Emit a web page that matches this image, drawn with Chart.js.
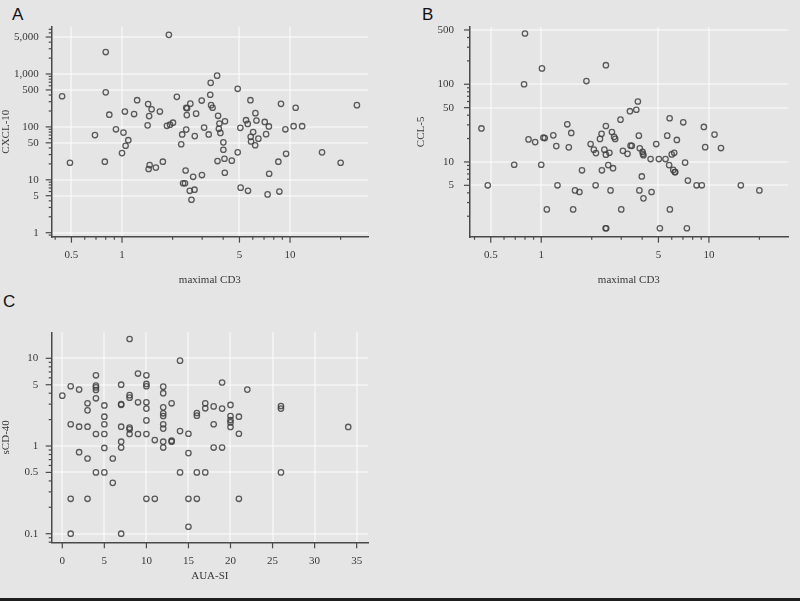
<!DOCTYPE html>
<html><head><meta charset="utf-8">
<script src="https://cdn.jsdelivr.net/npm/chart.js@4.4.1/dist/chart.umd.min.js"></script>
<style>
html,body{margin:0;padding:0;background:#e5e5e5;}
body{width:800px;height:601px;position:relative;overflow:hidden;}
canvas{position:absolute;}
.lbl{position:absolute;font:17px "Liberation Sans",Arial,sans-serif;line-height:17px;color:#111;}
#bottomline{position:absolute;left:0;top:598px;width:800px;height:2.5px;background:#1e1e1e;}
</style></head><body>
<div class="lbl" style="left:12px;top:6px">A</div>
<div class="lbl" style="left:422px;top:6px">B</div>
<div class="lbl" style="left:3px;top:293px">C</div>
<canvas id="cA" width="400" height="300" style="left:0;top:0"></canvas>
<canvas id="cB" width="400" height="300" style="left:400px;top:0"></canvas>
<canvas id="cC" width="400" height="300" style="left:0;top:300px"></canvas>
<div id="bottomline"></div>
<script>
// Panel A: maximal CD3 vs CXCL-10
const cxcl10CD3 = [0.44,0.49,0.69,0.80,0.80,0.79,0.84,0.92,1.02,1.04,1.0,1.05,1.09,1.18,1.23,1.43,1.50,1.45,1.42,1.44,1.46,1.59,1.68,1.75,1.9,1.85,1.93,2.01,2.12,2.28,2.25,2.41,2.43,2.41,2.44,2.55,2.39,2.31,2.37,2.53,2.70,2.59,2.65,2.71,2.76,2.98,2.99,3.08,3.28,3.37,3.35,3.39,3.46,3.68,3.73,3.80,3.77,3.85,4.10,4.01,4.01,4.07,3.70,4.09,4.50,4.88,4.88,5.06,5.08,5.62,5.47,5.60,5.81,5.83,5.86,6.03,6.22,6.31,6.20,6.48,7.07,7.20,7.48,7.51,7.35,8.52,8.64,8.83,9.38,9.47,10.5,10.8,11.8,15.5,20,25];
const cxcl10 = [380,21,70,2600,450,22,170,90,78,195,32,44,56,175,320,270,215,160,107,16,19,17,195,22,5500,105,110,120,370,72,47,89,167,230,225,275,15,8.6,8.6,6.2,6.5,4.2,11.4,67,178,315,12.3,97,72,680,405,258,230,930,162,116,92,77,128,51,37,25,22.6,13.6,23,525,33,96,7.1,6.2,134,114,320,65,53,80,182,132,45,60,124,73,102,13,5.3,22,6.0,273,90,31,103,230,103,33,21,258];

// Panel B: maximal CD3 vs CCL-5
const ccl5CD3 = [0.44,0.48,0.69,0.80,0.79,0.84,0.92,1.0,1.01,1.03,1.05,1.08,1.18,1.23,1.25,1.43,1.46,1.51,1.55,1.59,1.69,1.75,1.86,1.97,2.06,2.11,2.12,2.24,2.29,2.30,2.38,2.42,2.44,2.43,2.43,2.43,2.51,2.55,2.59,2.64,2.68,2.72,2.76,2.97,3.0,3.07,3.27,3.38,3.41,3.47,3.69,3.77,3.82,3.87,3.85,3.98,4.02,4.04,4.07,4.07,4.49,4.55,4.85,5.03,5.10,5.51,5.64,5.83,5.79,5.85,6.0,6.13,6.21,6.26,6.3,6.44,7.03,7.21,7.39,7.49,8.44,9.07,9.33,9.5,10.8,11.8,15.5,20];
const ccl5 = [27,5,9.2,450,100,19.5,18,9.2,160,20.5,20.3,2.45,22,16,5,30.5,15.4,23.6,2.45,4.3,4.1,7.8,110,17,14.4,5,13,19.8,23,7.8,14.4,1.4,1.4,176,29,12.4,9.1,13.1,4.3,24.3,8.3,21,19.8,35,2.45,13.9,12.7,45,16.2,16.1,47,60,21.8,15,4.3,6.5,13.5,12.7,12.2,3.4,10.9,4.1,17,10.9,1.4,10.9,21.8,36.5,9.1,2.45,12.5,7.9,13.1,7.4,7.4,19.2,32.4,9.8,1.4,5.75,5,5,28.2,15.5,22.5,15.1,5,4.3];

// Panel C: AUA-SI vs sCD-40
const auaSI = [0,1,1,1,1,2,2,2,3,3,3,3,3,4,4,4,4,4,4,4,5,5,5,5,5,5,6,6,7,7,7,7,7,7,7,8,8,8,8,8,8,9,9,9,10,10,10,10,10,10,10,10,11,11,12,12,12,12,12,12,12,12,12,13,13,13,14,14,14,15,15,15,15,16,16,16,16,17,17,17,18,18,18,19,19,19,20,20,20,20,20,21,21,21,22,26,26,26,34];
const scd40 = [3.75,4.8,1.77,0.25,0.1,4.4,1.66,0.85,3.07,2.55,1.66,0.72,0.25,6.4,4.9,4.66,4.35,3.5,1.37,0.5,2.9,2.16,1.77,1.37,0.95,0.5,0.72,0.38,5,3.0,2.95,1.66,1.12,0.96,0.1,16.6,3.8,3.56,1.62,1.55,1.37,6.7,3.15,1.37,6.4,5.1,4.8,3.15,2.67,1.96,1.37,0.25,1.17,0.25,4.75,4.0,2.76,2.36,2.2,1.77,1.58,1.12,0.96,3.07,1.15,1.12,9.4,1.48,0.5,1.38,0.83,0.25,0.12,2.38,2.22,0.5,0.25,3.07,2.69,0.5,2.83,1.77,0.96,5.3,2.67,0.96,2.94,2.2,1.98,1.86,1.65,2.16,1.38,0.25,4.4,2.86,2.67,0.5,1.65];

// Tick labels
const tickLabelsCD3 = [0.5, 1, 5, 10];
const tickLabelsCXCL10 = [1, 5, 10, 50, 100, 500, 1000, 5000];
const tickLabelsCCL5 = [5, 10, 50, 100, 500];
const tickLabelsAUA = [0, 5, 10, 15, 20, 25, 30, 35];
const tickLabelsSCD40 = [0.1, 0.5, 1, 5, 10];

const SERIF = '"Liberation Serif", "Times New Roman", serif';
const AXIS_COLOR = '#4a4a4a';
const TEXT_COLOR = '#383838';
const GRID_COLOR = 'rgba(255,255,255,0.45)';
const POINT_COLOR = 'rgba(65,65,65,0.85)';

const tickMarkPlugin = {
  id: 'tickMarks',
  afterDraw(chart) {
    const ctx = chart.ctx;
    ctx.save();
    ctx.strokeStyle = AXIS_COLOR;
    ctx.lineWidth = 1.2;
    for (const id of ['x', 'y']) {
      const s = chart.scales[id];
      const major = s.ticks.map(t => t.value);
      const minor = [];
      if (s.type === 'logarithmic') {
        for (let d = Math.floor(Math.log10(s.min)); d <= Math.ceil(Math.log10(s.max)); d++) {
          for (let k = 1; k <= 9; k++) {
            const v = k * Math.pow(10, d);
            if (v >= s.min && v <= s.max && !major.some(m => Math.abs(m - v) / v < 1e-6)) minor.push(v);
          }
        }
      }
      const draw = (v, len) => {
        const p = s.getPixelForValue(v);
        ctx.beginPath();
        if (id === 'x') { ctx.moveTo(p, s.top); ctx.lineTo(p, s.top + len); }
        else { ctx.moveTo(s.right, p); ctx.lineTo(s.right - len, p); }
        ctx.stroke();
      };
      major.forEach(v => draw(v, 6));
      minor.forEach(v => draw(v, 3));
    }
    ctx.restore();
  }
};

function fmt(v) { return Number(v).toLocaleString('en-US'); }

function axisOpts(axis, type, min, max, ticks, title, size, titlePad, labelPad) {
  return {
    type, min, max,
    position: axis === 'x' ? 'bottom' : 'left',
    afterBuildTicks: s => { s.ticks = ticks.map(v => ({value: v})); },
    afterFit: s => { if (axis === 'x') s.height = size; else s.width = size; },
    grid: {display: true, drawTicks: false, color: GRID_COLOR, lineWidth: 2},
    border: {display: true, color: AXIS_COLOR, width: 1.5},
    ticks: {autoSkip: false, maxRotation: 0, minRotation: 0, padding: labelPad, color: TEXT_COLOR,
            font: {family: SERIF, size: 11}, callback: v => fmt(v)},
    title: {display: true, text: title, color: TEXT_COLOR, font: {family: SERIF, size: 11},
            padding: axis === 'x' ? {top: 0, bottom: titlePad} : {top: titlePad, bottom: 0}}
  };
}

function makeChart(id, xs, ys, cfg) {
  const pts = xs.map((x, i) => ({x, y: ys[i]}));
  return new Chart(document.getElementById(id), {
    type: 'scatter',
    data: {datasets: [{data: pts, pointStyle: 'circle', pointRadius: 2.7, pointHoverRadius: 2.7,
      borderWidth: 1.3, borderColor: POINT_COLOR, backgroundColor: 'rgba(0,0,0,0)'}]},
    options: {
      responsive: false, animation: false, devicePixelRatio: 1,
      layout: {padding: {top: cfg.top, right: cfg.right, left: 0, bottom: 0}},
      plugins: {legend: {display: false}, tooltip: {enabled: false}},
      scales: {
        x: axisOpts('x', cfg.xType, cfg.xMin, cfg.xMax, cfg.xTicks, cfg.xTitle, cfg.xHeight, cfg.xTitlePad, 12),
        y: axisOpts('y', 'logarithmic', cfg.yMin, cfg.yMax, cfg.yTicks, cfg.yTitle, cfg.yWidth, cfg.yTitlePad, cfg.yLabelPad)
      }
    },
    plugins: [tickMarkPlugin]
  });
}

makeChart('cA', cxcl10CD3, cxcl10, {
  top: 26.7, right: 32, xType: 'logarithmic', xMin: 0.3815, xMax: 29.1, xTicks: tickLabelsCD3,
  xTitle: 'maximal CD3', xHeight: 63.3, xTitlePad: 13.4,
  yMin: 0.84, yMax: 7840, yTicks: tickLabelsCXCL10, yTitle: 'CXCL-10', yWidth: 51.7, yTitlePad: 0, yLabelPad: 13
});
makeChart('cB', ccl5CD3, ccl5, {
  top: 27, right: 12.3, xType: 'logarithmic', xMin: 0.376, xMax: 29.5, xTicks: tickLabelsCD3,
  xTitle: 'maximal CD3', xHeight: 63.3, xTitlePad: 13.4,
  yMin: 1.09, yMax: 546, yTicks: tickLabelsCCL5, yTitle: 'CCL-5', yWidth: 70, yTitlePad: 14.4, yLabelPad: 16
});
makeChart('cC', auaSI, scd40, {
  top: 32.3, right: 32, xType: 'linear', xMin: -1.26, xMax: 36.35, xTicks: tickLabelsAUA,
  xTitle: 'AUA-SI', xHeight: 57.7, xTitlePad: 17.4,
  yMin: 0.0798, yMax: 19.8, yTicks: tickLabelsSCD40, yTitle: 'sCD-40', yWidth: 51.7, yTitlePad: 0, yLabelPad: 13.5
});
</script>
</body></html>
